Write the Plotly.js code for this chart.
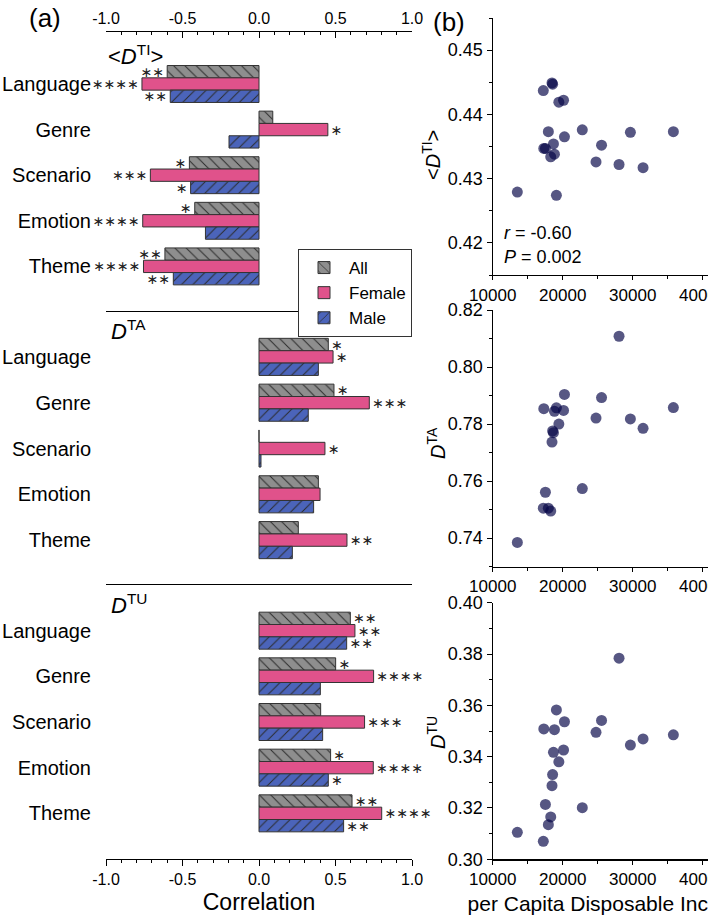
<!DOCTYPE html>
<html>
<head>
<meta charset="utf-8">
<script src="https://cdn.plot.ly/plotly-3.0.1.min.js"></script>
<style>
  html, body { margin: 0; padding: 0; overflow: hidden; background: #fff; }
  #chart { width: 790px; height: 917px; }
</style>
</head>
<body>
<div id="chart"></div>
<script>
// categories and groups
const categories = ['Language', 'Genre', 'Scenario', 'Emotion', 'Theme'];
const groups = ['All', 'Female', 'Male'];

// correlations, panel (a)
const tiAll    = [-0.60, 0.09, -0.455, -0.42, -0.615];
const tiFemale = [-0.765, 0.45, -0.71, -0.76, -0.755];
const tiMale   = [-0.58, -0.196, -0.447, -0.35, -0.56];
const taAll    = [0.453, 0.49, 0.0, 0.388, 0.257];
const taFemale = [0.484, 0.721, 0.431, 0.399, 0.575];
const taMale   = [0.388, 0.322, 0.013, 0.357, 0.218];
const tuAll    = [0.597, 0.501, 0.403, 0.468, 0.608];
const tuFemale = [0.627, 0.749, 0.69, 0.747, 0.802];
const tuMale   = [0.573, 0.401, 0.416, 0.453, 0.553];

// significance marks
const tiAllSig    = ['∗∗', '', '∗', '∗', '∗∗'];
const tiFemaleSig = ['∗∗∗∗', '∗', '∗∗∗', '∗∗∗∗', '∗∗∗∗'];
const tiMaleSig   = ['∗∗', '', '∗', '', '∗∗'];
const taAllSig    = ['∗', '∗', '', '', ''];
const taFemaleSig = ['∗', '∗∗∗', '∗', '', '∗∗'];
const taMaleSig   = ['', '', '', '', ''];
const tuAllSig    = ['∗∗', '∗', '', '∗', '∗∗'];
const tuFemaleSig = ['∗∗', '∗∗∗∗', '∗∗∗', '∗∗∗∗', '∗∗∗∗'];
const tuMaleSig   = ['∗∗', '', '', '∗', '∗∗'];

// panel (b): per capita disposable income vs diversity
const income = [13520, 17230, 17300, 17530, 17950, 18290, 18470, 18560, 18680, 18820,
                19100, 19450, 20120, 20250, 22800, 24760, 25550, 28050, 29670, 31480, 35810];
const dTI = [0.4279, 0.4437, 0.4347, 0.4347, 0.4373, 0.4334, 0.4449, 0.4447, 0.4354, 0.4338,
             0.4274, 0.4419, 0.4422, 0.4365, 0.4376, 0.4326, 0.4352, 0.4322, 0.4372, 0.4317, 0.4373];
const dTA = [0.7385, 0.7505, 0.7854, 0.7561, 0.7505, 0.7495, 0.7737, 0.7776, 0.7770, 0.7845,
             0.7857, 0.7800, 0.7848, 0.7904, 0.7574, 0.7821, 0.7893, 0.8108, 0.7818, 0.7785, 0.7858];
const dTU = [0.3105, 0.3070, 0.3508, 0.3214, 0.3135, 0.3165, 0.3287, 0.3330, 0.3417, 0.3505,
             0.3582, 0.3380, 0.3426, 0.3536, 0.3201, 0.3495, 0.3541, 0.3784, 0.3445, 0.3469, 0.3485];

const corrTicks = [-1, -0.5, 0, 0.5, 1];
const corrTickText = ['-1.0', '-0.5', '0.0', '0.5', '1.0'];

const W = 790, H = 917;
const px = v => v / W;
const py = v => 1 - v / H;
const FONT = 'Liberation Sans, Arial, sans-serif';

const panelsA = [
  { vals: [tiAll, tiFemale, tiMale], sig: [tiAllSig, tiFemaleSig, tiMaleSig] },
  { vals: [taAll, taFemale, taMale], sig: [taAllSig, taFemaleSig, taMaleSig] },
  { vals: [tuAll, tuFemale, tuMale], sig: [tuAllSig, tuFemaleSig, tuMaleSig] }
];
const barStyle = [
  { color: '#8e8e8e', shape: '\\' },
  { color: '#e0528b', shape: '' },
  { color: '#4b64ba', shape: '/' }
];
const ySlots = categories.map((c, i) => i);

const data = [];
panelsA.forEach((p, k) => {
  const ax = k === 0 ? '' : String(k + 1);
  groups.forEach((g, j) => {
    const st = barStyle[j];
    const marker = { color: st.color, line: { color: '#333', width: 1 } };
    if (st.shape) {
      marker.pattern = { shape: st.shape, fgcolor: '#2a2a2a', bgcolor: st.color,
                         fillmode: 'replace', size: 8, solidity: 0.12 };
    }
    data.push({
      type: 'bar', orientation: 'h', name: g, legendgroup: g, showlegend: k === 0,
      x: p.vals[j], y: ySlots, xaxis: 'x' + ax, yaxis: 'y' + ax,
      text: p.sig[j], textposition: 'outside', cliponaxis: false, constraintext: 'none',
      textfont: { family: 'DejaVu Sans', size: 14, color: '#222' },
      hoverinfo: 'x',
      marker
    });
  });
});

[dTI, dTA, dTU].forEach((ys, k) => {
  data.push({
    type: 'scatter', mode: 'markers', x: income, y: ys, showlegend: false,
    xaxis: 'x' + (k + 4), yaxis: 'y' + (k + 4),
    marker: { size: 11, color: 'rgba(5,5,70,0.67)' }
  });
});

const layout = {
  width: W, height: H, margin: { l: 0, r: 0, t: 0, b: 0 },
  paper_bgcolor: '#fff', plot_bgcolor: 'rgba(0,0,0,0)',
  font: { family: FONT, color: '#000' },
  barmode: 'group', bargap: 0.19, bargroupgap: 0,
  showlegend: true,
  legend: {
    x: px(298), y: py(249), xanchor: 'left', yanchor: 'top',
    bgcolor: '#fff', bordercolor: '#333', borderwidth: 1,
    font: { size: 17 }, traceorder: 'normal', itemwidth: 40, tracegroupgap: 0
  },
  annotations: []
};

// panel (a) axes
const leftDomY = [[py(312), py(32)], [py(585), py(312)], [py(859), py(585)]];
const leftRangeY = [[5.0, -1.14], [4.98, -0.98], [5.0, -1.0]];
const minorCorr = [];
for (let v = -10; v <= 10; v++) if (v % 5 !== 0) minorCorr.push(v / 10);

leftDomY.forEach((dom, k) => {
  const ax = k === 0 ? '' : String(k + 1);
  const xa = {
    domain: [px(106), px(412)], range: [-1, 1], anchor: 'y' + ax,
    showgrid: false, zeroline: false, showline: true, linecolor: '#000', linewidth: 1.2,
    showticklabels: false, ticks: ''
  };
  if (k === 0) {
    Object.assign(xa, {
      side: 'top', ticks: 'inside', ticklen: 6, tickcolor: '#000',
      tickvals: corrTicks, ticktext: corrTickText, showticklabels: true,
      tickfont: { size: 16 },
      minor: { tickvals: minorCorr, ticks: 'inside', ticklen: 3, tickcolor: '#000' }
    });
  } else if (k === 1) {
    xa.side = 'top';
  } else {
    Object.assign(xa, {
      side: 'bottom', mirror: true, ticks: 'outside', ticklen: 6, tickcolor: '#000',
      tickvals: corrTicks, ticktext: corrTickText, showticklabels: true,
      tickfont: { size: 16 },
      minor: { tickvals: minorCorr, ticks: 'outside', ticklen: 3, tickcolor: '#000' },
      title: { text: 'Correlation', font: { size: 23 }, standoff: 6 }
    });
  }
  layout['xaxis' + ax] = xa;
  layout['yaxis' + ax] = {
    domain: dom, range: leftRangeY[k], anchor: 'x' + ax,
    showgrid: false, zeroline: false, showline: false,
    tickvals: ySlots, ticktext: categories, tickfont: { size: 20 },
    ticks: 'outside', ticklen: 10, tickcolor: 'rgba(0,0,0,0)'
  };
  // zero line with boundary ticks crossing it
  const bounds = [-0.5, 0.5, 1.5, 2.5, 3.5, 4.5];
  ['outside', 'inside'].forEach((dir, d) => {
    layout['yaxis' + (7 + k + 3 * d)] = {
      overlaying: 'y' + ax, anchor: 'free', position: px(259), side: 'left',
      range: leftRangeY[k], showgrid: false, zeroline: false,
      showline: d === 0, linecolor: '#000', linewidth: 1.5,
      tickvals: bounds, ticks: dir, ticklen: 4, tickwidth: 1.2, tickcolor: '#000',
      showticklabels: false
    };
  });
});

// panel (b) axes
const rightDomY = [[py(275), py(18)], [py(566.7), py(310)], [py(859.3), py(602.7)]];
const rightRangeY = [[0.415, 0.455], [0.73, 0.82], [0.30, 0.40]];
const rightDtick = [0.01, 0.02, 0.02];
const rightMinor = [0.005, 0.01, 0.01];
const xDomR = [px(492.7), px(492.7 + 231)];
rightDomY.forEach((dom, k) => {
  const n = k + 4;
  const xa = {
    domain: xDomR, range: [10000, 43000], anchor: 'y' + n,
    showgrid: false, zeroline: false, showline: true, linecolor: '#000', linewidth: 1.2,
    ticks: 'outside', ticklen: 4, tickcolor: '#000', dtick: 10000, tick0: 10000,
    tickformat: 'd', tickfont: { size: 17 },
    minor: { dtick: 5000, tick0: 10000, ticks: 'outside', ticklen: 3, tickcolor: '#000' }
  };
  if (k === 2) xa.title = { text: 'per Capita Disposable Income', font: { size: 21 }, standoff: 8 };
  layout['xaxis' + n] = xa;
  layout['xaxis' + (n + 3)] = {
    overlaying: 'x' + n, anchor: 'y' + n, side: 'top', range: [10000, 43000],
    showgrid: false, zeroline: false, showline: true, linecolor: '#000', linewidth: 1.2,
    ticks: 'inside', ticklen: 5, tickcolor: '#000', dtick: 10000, tick0: 10000,
    showticklabels: false,
    minor: { dtick: 5000, tick0: 10000, ticks: 'inside', ticklen: 3, tickcolor: '#000' }
  };
  layout['yaxis' + n] = {
    domain: dom, range: rightRangeY[k], anchor: 'x' + n,
    showgrid: false, zeroline: false, showline: true, linecolor: '#000', linewidth: 1.2,
    ticks: 'outside', ticklen: 5, tickcolor: '#000', dtick: rightDtick[k],
    tickformat: '.2f', tickfont: { size: 18 },
    minor: { dtick: rightMinor[k], ticks: 'outside', ticklen: 3, tickcolor: '#000' }
  };
});

const ann = (text, x, y, opts) => Object.assign({
  text, x: px(x), y: py(y), xref: 'paper', yref: 'paper', showarrow: false,
  xanchor: 'center', yanchor: 'middle', font: { size: 20 }
}, opts || {});

layout.annotations.push(
  ann('(a)', 45, 18, { font: { size: 26 } }),
  ann('(b)', 449, 22, { font: { size: 26 } }),
  ann('&lt;<i>D</i><sup>TI</sup>&gt;', 106, 55, { xanchor: 'left', font: { size: 22 } }),
  ann('<i>D</i><sup>TA</sup>', 109, 330, { xanchor: 'left', font: { size: 22 } }),
  ann('<i>D</i><sup>TU</sup>', 109, 604, { xanchor: 'left', font: { size: 22 } }),
  ann('<i>r</i> = -0.60', 502, 233, { xanchor: 'left', font: { size: 18 } }),
  ann('<i>P</i> = 0.002', 502, 257, { xanchor: 'left', font: { size: 18 } }),
  ann('&lt;<i>D</i><sup>TI</sup>&gt;', 431, 155, { textangle: -90 }),
  ann('<i>D</i><sup>TA</sup>', 436, 443, { textangle: -90 }),
  ann('<i>D</i><sup>TU</sup>', 436, 733, { textangle: -90 })
);

Plotly.newPlot('chart', data, layout, { displayModeBar: false, staticPlot: true });
</script>
</body>
</html>
